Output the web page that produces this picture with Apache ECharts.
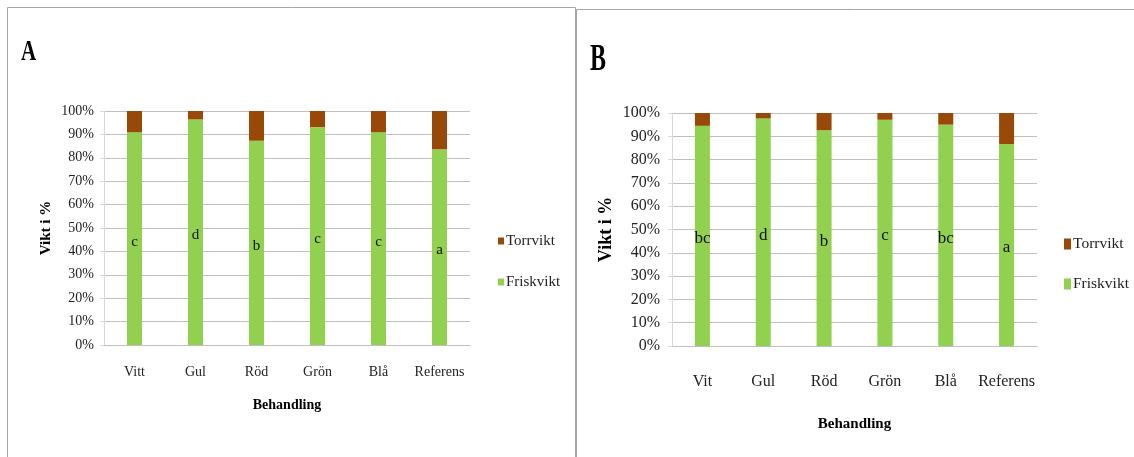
<!DOCTYPE html>
<html>
<head>
<meta charset="utf-8">
<script src="https://cdn.jsdelivr.net/npm/echarts@6/dist/echarts.min.js"></script>
<style>
  html, body { margin: 0; padding: 0; background: #fff; }
  #chart { width: 1134px; height: 457px; }
</style>
</head>
<body>
<div id="chart"></div>
<script>
// Treatments (panel A uses "Vitt", panel B "Vit")
const categoriesA = ['Vitt', 'Gul', 'Röd', 'Grön', 'Blå', 'Referens'];
const categoriesB = ['Vit', 'Gul', 'Röd', 'Grön', 'Blå', 'Referens'];

// Share of weight in percent, panel A
const friskA = [90.9, 96.4, 87.3, 93.1, 90.9, 83.6];
const torrA  = [9.1, 3.6, 12.7, 6.9, 9.1, 16.4];
// Share of weight in percent, panel B
const friskB = [94.5, 97.7, 92.6, 97.1, 95.0, 86.7];
const torrB  = [5.5, 2.3, 7.4, 2.9, 5.0, 13.3];

// Significance groups shown on the bars
const lettersA = ['c', 'd', 'b', 'c', 'c', 'a'];
const lettersB = ['bc', 'd', 'b', 'c', 'bc', 'a'];

// Value axis ticks
const yMin = 0, yMax = 100, yStep = 10;

const FONT = '"Liberation Serif", "DejaVu Serif", serif';
const GREEN = '#92d050';
const BROWN = '#984807';
const GRID_LINE = '#bfbfbf';

function xAxis(gridIndex, cats, fs, margin, nameGap, nameFs) {
  return {
    type: 'category', gridIndex, data: cats,
    name: 'Behandling', nameLocation: 'middle', nameGap,
    nameTextStyle: { fontFamily: FONT, fontWeight: 'bold', fontSize: nameFs, color: '#000' },
    axisLine: { lineStyle: { color: GRID_LINE, width: 1 } },
    axisTick: { show: false },
    axisLabel: { fontFamily: FONT, fontSize: fs, color: '#222', margin, interval: 0 }
  };
}
function yAxis(gridIndex, fs, margin, nameGap, nameFs) {
  return {
    type: 'value', gridIndex, min: yMin, max: yMax, interval: yStep,
    name: 'Vikt i %', nameLocation: 'middle', nameGap,
    nameTextStyle: { fontFamily: FONT, fontWeight: 'bold', fontSize: nameFs, color: '#000' },
    axisLine: { show: true, lineStyle: { color: '#d9d9d9', width: 1 } },
    axisTick: { show: true, length: 4, lineStyle: { color: '#d9d9d9' } },
    axisLabel: { fontFamily: FONT, fontSize: fs, color: '#222', margin, formatter: '{value}%' },
    splitLine: { lineStyle: { color: GRID_LINE, width: 1 } }
  };
}
function bars(axisIndex, stack, frisk, torr, letters, fs) {
  return [
    {
      name: 'Friskvikt', type: 'bar', stack, xAxisIndex: axisIndex, yAxisIndex: axisIndex,
      data: frisk, barWidth: 15, itemStyle: { color: GREEN },
      label: {
        show: true, position: 'inside', offset: [0, 3],
        fontFamily: FONT, fontSize: fs, color: '#111',
        formatter: p => letters[p.dataIndex]
      }
    },
    {
      name: 'Torrvikt', type: 'bar', stack, xAxisIndex: axisIndex, yAxisIndex: axisIndex,
      data: torr, barWidth: 15, itemStyle: { color: BROWN }
    }
  ];
}
function legend(left, top, iw, ih, fs, lh, gap) {
  return {
    orient: 'vertical', left, top, icon: 'rect', padding: 0,
    itemWidth: iw, itemHeight: ih, itemGap: gap,
    data: ['Torrvikt', 'Friskvikt'],
    textStyle: { fontFamily: FONT, fontSize: fs, color: '#222', lineHeight: lh, padding: [0, 0, 0, -3] }
  };
}

const chart = echarts.init(document.getElementById('chart'), null, { renderer: 'canvas' });
chart.setOption({
  animation: false,
  grid: [
    { left: 104, top: 111, width: 366, height: 234 },
    { left: 672, top: 113, width: 365, height: 233 }
  ],
  xAxis: [
    xAxis(0, categoriesA, 14, 20, 53, 14),
    xAxis(1, categoriesB, 16, 28, 71, 15)
  ],
  yAxis: [
    yAxis(0, 14, 10, 50, 15),
    yAxis(1, 16, 12, 57, 18)
  ],
  legend: [
    legend(498, 233, 6, 7, 15, 16, 25),
    legend(1064, 235, 7, 11, 15.5, 18, 22)
  ],
  series: [
    ...bars(0, 'A', friskA, torrA, lettersA, 15),
    ...bars(1, 'B', friskB, torrB, lettersB, 17)
  ],
  graphic: [
    { type: 'rect', shape: { x: 7.5, y: 7.5, width: 568, height: 470 },
      style: { fill: 'none', stroke: '#a6a6a6', lineWidth: 1 }, silent: true },
    { type: 'polyline', shape: { points: [[576.5, 470], [576.5, 9.5], [1134, 9.5]] },
      style: { fill: 'none', stroke: '#a6a6a6', lineWidth: 1 }, silent: true },
    { type: 'text', x: 21, y: 37, scaleY: 1.45,
      style: { text: 'A', fontFamily: FONT, fontWeight: 'bold', fontSize: 21, fill: '#000', textVerticalAlign: 'top' } },
    { type: 'text', x: 590, y: 41, scaleY: 1.6,
      style: { text: 'B', fontFamily: FONT, fontWeight: 'bold', fontSize: 24, fill: '#000', textVerticalAlign: 'top' } }
  ]
});
</script>
</body>
</html>
